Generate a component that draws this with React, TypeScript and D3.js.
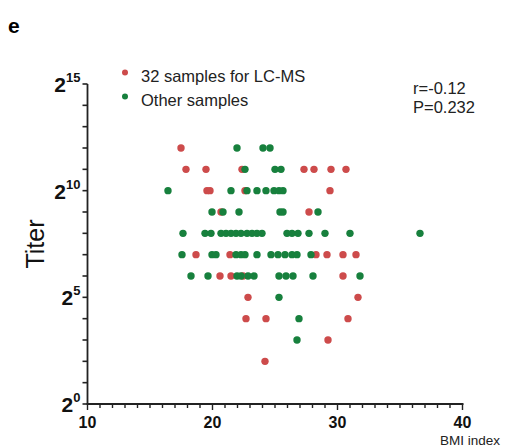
import React from "react";
import * as d3 from "d3";

// BMI vs. titer; titer is stored as the measured dilution (powers of two)
const lcmsBmi = [
  17.48,
  17.88, 19.48, 22.36, 27.32, 28.12, 29.48, 30.68,
  19.56, 19.8, 22.6, 29.4,
  20.68, 27.72,
  18.68, 21.4, 28.28, 29.16, 30.44, 31.48,
  20.6, 21.48, 22.44, 30.44,
  22.84, 31.64,
  22.68, 24.28, 30.84,
  29.24,
  24.2,
];
const lcmsTiter = [
  4096,
  2048, 2048, 2048, 2048, 2048, 2048, 2048,
  1024, 1024, 1024, 1024,
  512, 512,
  128, 128, 128, 128, 128, 128,
  64, 64, 64, 64,
  32, 32,
  16, 16, 16,
  8,
  4,
];

const otherBmi = [
  21.96, 24.04, 24.6,
  22.6, 25.0, 25.48,
  16.44, 21.48, 22.76, 23.56, 24.28, 24.92, 25.32, 25.64,
  19.96, 20.84, 22.12, 25.4, 25.64, 28.44,
  17.64, 19.4, 19.88, 20.68, 21.08, 21.48, 21.88, 22.28, 22.76, 23.16, 23.56, 23.96,
  25.96, 26.36, 26.84, 27.72, 29.0, 31.0, 36.6,
  17.56, 19.96, 20.28, 21.88, 22.28, 22.6, 23.56, 24.68, 25.24, 25.8, 26.36, 26.76, 27.88,
  18.28, 19.64, 21.96, 22.28, 22.84, 23.32, 25.32, 25.88, 26.44, 28.04, 31.8,
  25.32,
  26.92,
  26.76,
];
const otherTiter = [
  4096, 4096, 4096,
  2048, 2048, 2048,
  1024, 1024, 1024, 1024, 1024, 1024, 1024, 1024,
  512, 512, 512, 512, 512, 512,
  256, 256, 256, 256, 256, 256, 256, 256, 256, 256, 256, 256,
  256, 256, 256, 256, 256, 256, 256,
  128, 128, 128, 128, 128, 128, 128, 128, 128, 128, 128, 128, 128,
  64, 64, 64, 64, 64, 64, 64, 64, 64, 64, 64,
  32,
  16,
  8,
];

const xTicks = [10, 20, 30, 40];
const yLabelExps = [0, 5, 10, 15];
const legendLabels = ["32 samples for LC-MS", "Other samples"];
const statLines = ["r=-0.12", "P=0.232"];

const RED = "#cd4b4b";
const GREEN = "#17803d";
const FONT = "Liberation Sans, Arial, sans-serif";

export default function App() {
  const x = d3.scaleLinear().domain([10, 40]).range([87.5, 462.5]);
  const y = d3.scaleLog().base(2).domain([1, 2 ** 15]).range([404, 84]);
  const r = 3.7;

  const minorX = d3.range(10, 41, 1);
  const yExps = d3.range(0, 16, 1);

  const lcms = lcmsBmi.map((b, i) => [b, lcmsTiter[i]]);
  const other = otherBmi.map((b, i) => [b, otherTiter[i]]);

  return (
    <svg
      width={514}
      height={448}
      style={{ position: "absolute", left: 0, top: 0, background: "#fff" }}
      fontFamily={FONT}
    >
      <text x={8} y={33} fontSize={21} fontWeight="bold">e</text>

      {/* y axis */}
      <line x1={x(10)} x2={x(10)} y1={y(2 ** 15)} y2={y(1)} stroke="#222" strokeWidth={1.8} />
      {yExps.map((e) => (
        <line key={"yt" + e} x1={x(10) - 5} x2={x(10)} y1={y(2 ** e)} y2={y(2 ** e)} stroke="#222" strokeWidth={1.6} />
      ))}
      {yLabelExps.map((e) => (
        <text key={"yl" + e} x={x(10) - 7} y={y(2 ** e) + 8} textAnchor="end" fontWeight="bold" fill="#111">
          <tspan fontSize={21}>2</tspan>
          <tspan fontSize={13} dy={-10}>{e}</tspan>
        </text>
      ))}
      <text
        transform={`translate(44, ${y(2 ** 7.5)}) rotate(-90)`}
        textAnchor="middle"
        fontSize={25}
        fill="#111"
      >
        Titer
      </text>

      {/* x axis */}
      <line x1={x(10) - 1} x2={x(40) + 1} y1={y(1)} y2={y(1)} stroke="#222" strokeWidth={1.8} />
      {minorX.map((v) => (
        <line key={"xt" + v} x1={x(v)} x2={x(v)} y1={y(1)} y2={y(1) + (v % 10 === 0 ? 6 : 4)} stroke="#222" strokeWidth={1.4} />
      ))}
      {xTicks.map((v) => (
        <text key={"xl" + v} x={x(v)} y={428} textAnchor="middle" fontSize={16} fontWeight="bold" fill="#111">
          {v}
        </text>
      ))}
      <text x={500} y={445} textAnchor="end" fontSize={13.5} fill="#222">BMI index</text>

      {/* points */}
      {lcms.map(([b, t], i) => (
        <circle key={"r" + i} cx={x(b)} cy={y(t)} r={r} fill={RED} />
      ))}
      {other.map(([b, t], i) => (
        <circle key={"g" + i} cx={x(b)} cy={y(t)} r={r} fill={GREEN} />
      ))}

      {/* legend */}
      {legendLabels.map((l, i) => (
        <g key={"lg" + i}>
          <circle cx={125} cy={72.5 + i * 24} r={3} fill={i === 0 ? RED : GREEN} />
          <text x={141} y={81.5 + i * 24} fontSize={16.5} fill="#222">{l}</text>
        </g>
      ))}

      {statLines.map((s, i) => (
        <text key={"st" + i} x={413} y={94 + i * 18.5} fontSize={16.5} fill="#222">{s}</text>
      ))}
    </svg>
  );
}
